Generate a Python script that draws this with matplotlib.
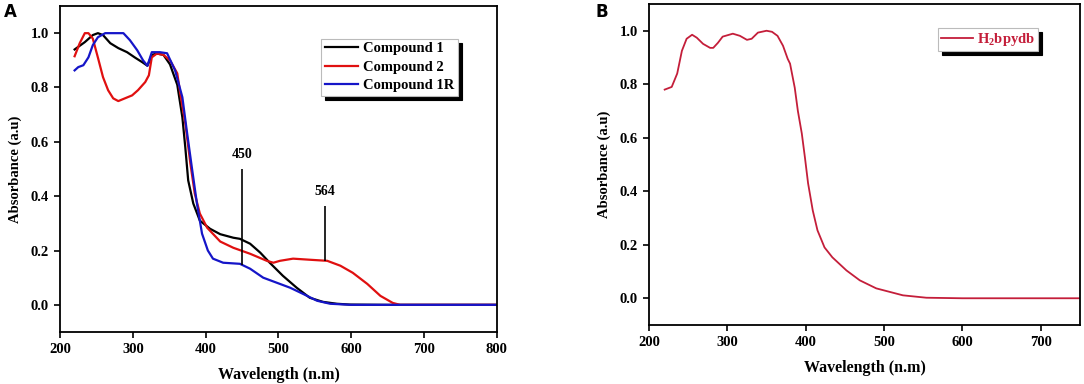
import matplotlib
matplotlib.use('Agg')
from matplotlib import pyplot as plt

plt.rcParams['font.family'] = ['Liberation Serif', 'DejaVu Serif']
plt.rcParams['font.weight'] = 'bold'
plt.rcParams['mathtext.fontset'] = 'custom'
plt.rcParams['mathtext.rm'] = 'Liberation Serif:bold'
plt.rcParams['mathtext.it'] = 'Liberation Serif:bold'

# panel A data (wavelength nm, absorbance)
c1_x = [220, 234, 245, 252, 259, 269, 280, 292, 303, 313, 320, 326, 333, 342, 351, 361,
        368, 372, 376, 383, 392, 406, 420, 438, 447, 461, 475, 488, 506, 525, 543, 561,
        580, 598, 650, 800]
c1_y = [0.94, 0.967, 0.993, 1.0, 0.993, 0.963, 0.945, 0.93, 0.91, 0.893, 0.88, 0.92, 0.925, 0.92, 0.885, 0.81,
        0.69, 0.58, 0.458, 0.373, 0.31, 0.28, 0.26, 0.247, 0.243, 0.225, 0.192, 0.155, 0.107, 0.063, 0.026, 0.011,
        0.004, 0.001, 0.0, 0.0]

c2_x = [220, 227, 234, 239, 245, 252, 259, 266, 273, 280, 289, 299, 307, 317, 322, 326,
        333, 342, 351, 361, 365, 372, 379, 385, 392, 402, 420, 438, 461, 484, 493, 502,
        520, 543, 567, 585, 602, 622, 640, 657, 667, 700, 800]
c2_y = [0.915, 0.963, 1.0, 1.0, 0.98, 0.91, 0.838, 0.79, 0.76, 0.75, 0.76, 0.771, 0.79, 0.82, 0.845, 0.911,
        0.925, 0.92, 0.9, 0.852, 0.78, 0.668, 0.52, 0.41, 0.336, 0.284, 0.233, 0.21, 0.188, 0.162, 0.155, 0.162,
        0.17, 0.166, 0.162, 0.144, 0.118, 0.077, 0.033, 0.007, 0.0, 0.0, 0.0]

c1r_x = [220, 225, 232, 239, 245, 252, 262, 287, 296, 306, 314, 320, 326, 337, 347, 358,
         368, 374, 381, 388, 395, 403, 410, 424, 447, 461, 479, 498, 516, 534, 553, 571,
         600, 700, 800]
c1r_y = [0.863, 0.875, 0.882, 0.911, 0.956, 0.985, 1.0, 1.0, 0.974, 0.937, 0.9, 0.88, 0.93, 0.93, 0.926, 0.863,
         0.764, 0.642, 0.506, 0.373, 0.262, 0.2, 0.17, 0.155, 0.151, 0.133, 0.1, 0.081, 0.063, 0.04, 0.015, 0.004,
         0.0, 0.0, 0.0]

# panel B data
h2_x = [220, 229, 236, 242, 248, 255, 261, 269, 278, 282, 288, 294, 307, 316, 325, 331,
        339, 350, 357, 364, 371, 377, 380, 386, 390, 395, 399, 403, 409, 415, 424, 434,
        452, 469, 490, 524, 554, 600, 750]
h2_y = [0.78, 0.79, 0.84, 0.925, 0.97, 0.985, 0.974, 0.951, 0.936, 0.936, 0.955, 0.978, 0.989, 0.981, 0.966, 0.97,
        0.993, 1.0, 0.996, 0.981, 0.944, 0.895, 0.877, 0.787, 0.70, 0.616, 0.526, 0.43, 0.328, 0.254, 0.19, 0.153,
        0.104, 0.067, 0.037, 0.011, 0.002, 0.0, 0.0]

peaks = [450, 564]
peak_low = [0.148, 0.163]
peak_high = [0.50, 0.365]

fig = plt.figure(figsize=(10.84, 3.84), dpi=100)
axA = fig.add_axes([0.0554, 0.1354, 0.403, 0.849])
axB = fig.add_axes([0.5987, 0.1536, 0.3976, 0.836])


def style_axes(ax, xlim, xticks):
    ax.set_xlim(*xlim)
    ax.set_ylim(-0.1, 1.1)
    ax.set_xticks(xticks)
    ax.set_yticks([0.0, 0.2, 0.4, 0.6, 0.8, 1.0])
    ax.set_yticklabels(['0.0', '0.2', '0.4', '0.6', '0.8', '1.0'])
    ax.tick_params(direction='out', length=4, width=1.2, labelsize=10.5, pad=4)
    for s in ax.spines.values():
        s.set_linewidth(1.3)
    ax.set_xlabel('Wavelength (n.m)', fontsize=11.5, fontweight='bold', labelpad=8)
    ax.set_ylabel('Absorbance (a.u)', fontsize=10.5, fontweight='bold', labelpad=6)


axA.plot(c1_x, c1_y, color='black', lw=1.6, label='Compound 1')
axA.plot(c2_x, c2_y, color='#e01010', lw=1.6, label='Compound 2')
axA.plot(c1r_x, c1r_y, color='#1515c8', lw=1.6, label='Compound 1R')
axA.vlines(peaks, peak_low, peak_high, color='black', lw=1.2)
for p, h in zip(peaks, peak_high):
    axA.text(p, h + 0.03, str(p), ha='center', va='bottom', fontsize=10, fontweight='bold')
style_axes(axA, (200, 800), [200, 300, 400, 500, 600, 700, 800])
legA = axA.legend(loc='upper left', bbox_to_anchor=(0.598, 0.9), fontsize=10.5,
                  fancybox=False, edgecolor='#bbbbbb', handlelength=2.3, handletextpad=0.3,
                  borderpad=0.25, labelspacing=0.35, borderaxespad=0,
                  shadow={'color': 'black', 'alpha': 1, 'ox': 3, 'oy': -3})
legA.get_frame().set_linewidth(0.8)

axB.plot(h2_x, h2_y, color='#c41e3a', lw=1.3, label=r'H$_\mathrm{2}$bpydb')
style_axes(axB, (200, 750), [200, 300, 400, 500, 600, 700])
legB = axB.legend(loc='upper left', bbox_to_anchor=(0.67, 0.925), fontsize=10.5,
                  fancybox=False, edgecolor='#bbbbbb', handlelength=2.2, handletextpad=0.3,
                  borderpad=0.2, labelcolor='#c41e3a', borderaxespad=0,
                  shadow={'color': 'black', 'alpha': 1, 'ox': 3, 'oy': -3})
legB.get_frame().set_linewidth(0.8)

fig.text(0.004, 0.992, 'A', fontsize=12, fontweight='bold', family='DejaVu Sans', va='top')
fig.text(0.549, 0.992, 'B', fontsize=12, fontweight='bold', family='DejaVu Sans', va='top')

fig.savefig('out.png', dpi=100)
